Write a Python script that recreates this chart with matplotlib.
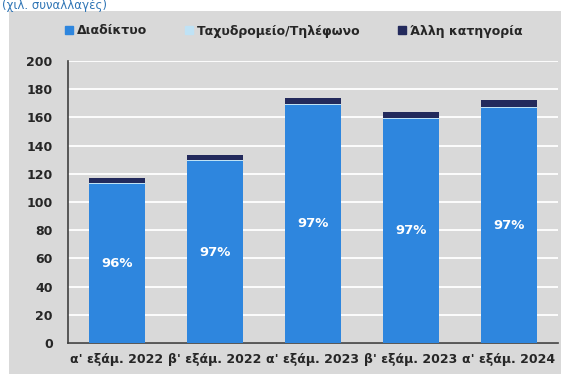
import matplotlib.pyplot as plt
import numpy as np
from matplotlib.patches import Rectangle, Patch

# Συναλλαγές ανά εξάμηνο και κανάλι (χιλ.)
periodos = ["α' εξάμ. 2022", "β' εξάμ. 2022", "α' εξάμ. 2023", "β' εξάμ. 2023", "α' εξάμ. 2024"]
diadiktyo = [113, 129, 169, 159, 167]
tachydromeio = [0.7, 0.7, 0.7, 0.6, 0.6]
alli = [3.5, 3.5, 4.3, 4.3, 4.6]
pososto = ['96%', '97%', '97%', '97%', '97%']

xroma_diad = '#2e86de'
xroma_tax = '#bfe2f5'
xroma_alli = '#232a5c'
fonto = '#d9d9d9'
keimeno = '#262626'

W, H = 561, 374
fig = plt.figure(figsize=(W / 100, H / 100), dpi=100)
fig.patch.set_facecolor('white')

# γκρι πλαίσιο γραφήματος
fig.patches.append(Rectangle((9 / W, 0), 1 - 9 / W, 1 - 11 / H, transform=fig.transFigure,
                             facecolor=fonto, edgecolor='none', zorder=-5))

fig.text(2 / W, 1 - 5 / H, '(χιλ. συναλλαγές)', color='#2f75b5', fontsize=8.5,
         ha='left', va='center')

ax = fig.add_axes([68 / W, 31 / H, 490 / W, 282 / H])
ax.set_facecolor('none')

x = np.arange(len(periodos))
b1 = np.array(diadiktyo)
b2 = b1 + np.array(tachydromeio)
ax.bar(x, diadiktyo, width=0.58, color=xroma_diad, zorder=3)
ax.bar(x, tachydromeio, width=0.58, bottom=b1, color=xroma_tax, zorder=3)
ax.bar(x, alli, width=0.58, bottom=b2, color=xroma_alli, zorder=3)

for i, p in enumerate(pososto):
    ax.text(x[i], diadiktyo[i] / 2, p, color='white', fontsize=9.5, fontweight='bold',
            ha='center', va='center', zorder=4)

ax.set_xlim(-0.5, len(periodos) - 0.5)
ax.set_ylim(0, 200)
ax.set_yticks(range(0, 201, 20))
ax.yaxis.grid(True, color='white', linewidth=1.3, zorder=1)
ax.set_axisbelow(True)
ax.set_xticks(x)
ax.set_xticklabels(periodos)
ax.tick_params(length=0, labelsize=9, labelcolor=keimeno, pad=7)
for lbl in ax.get_xticklabels() + ax.get_yticklabels():
    lbl.set_fontweight('bold')
ax.tick_params(axis='y', pad=11)

for s in ['top', 'right']:
    ax.spines[s].set_visible(False)
for s in ['left', 'bottom']:
    ax.spines[s].set_color('#404040')
    ax.spines[s].set_linewidth(1.2)

handles = [Patch(color=xroma_diad, label='Διαδίκτυο'),
           Patch(color=xroma_tax, label='Ταχυδρομείο/Τηλέφωνο'),
           Patch(color=xroma_alli, label='Άλλη κατηγορία')]
leg = fig.legend(handles=handles, loc='center', bbox_to_anchor=(294 / W, 1 - 31 / H),
                 ncol=3, frameon=False, handlelength=0.6, handleheight=0.6,
                 handletextpad=0.35, columnspacing=3.0,
                 prop={'size': 9, 'weight': 'bold'})
for t in leg.get_texts():
    t.set_color(keimeno)

fig.savefig('out.png', dpi=100)
